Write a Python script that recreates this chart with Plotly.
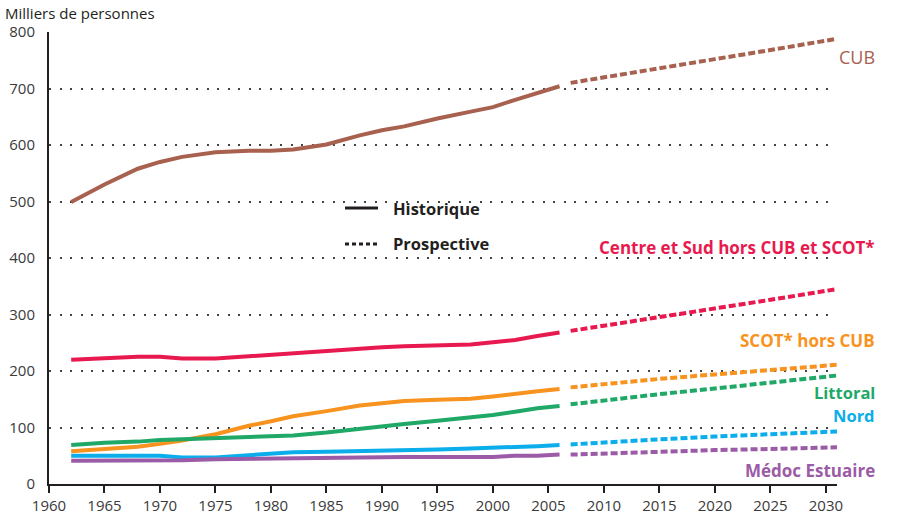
import plotly.graph_objects as go

# ---- data (milliers de personnes) ----
hist_years = [1962, 1965, 1968, 1970, 1972, 1975, 1978, 1980, 1982, 1985,
              1988, 1990, 1992, 1995, 1998, 2000, 2002, 2004, 2006]
prosp_years = [2007, 2010, 2015, 2020, 2025, 2031]

cub_hist = [499, 530, 558, 570, 579, 587, 590, 590, 592, 601,
            617, 626, 633, 647, 659, 667, 680, 692, 704]
cub_prosp = [710, 720, 735, 752, 768, 788]

centre_hist = [220, 223, 225, 225, 222, 222, 226, 230, 233, 236,
               240, 242, 244, 245, 247, 251, 255, 262, 268]
centre_prosp = [271, 280, 296, 311, 326, 345]

scot_hist = [58, 62, 66, 71, 77, 88, 103, 111, 120, 129,
             139, 143, 147, 149, 151, 155, 160, 164, 168]
scot_prosp = [171, 177, 186, 194, 201, 211]

littoral_hist = [69, 73, 75, 78, 79, 81, 83, 84, 86, 91,
                 98, 103, 106, 112, 118, 122, 128, 134, 138]
littoral_prosp = [141, 148, 159, 169, 180, 192]

nord_hist = [50, 50, 50, 50, 47, 47, 51, 54, 56, 57,
             58, 58, 59, 61, 63, 64, 66, 67, 69]
nord_prosp = [70, 74, 79, 84, 88, 93]

medoc_hist = [41, 41, 41, 41, 42, 44, 45, 45, 45, 47,
              48, 48, 48, 48, 48, 48, 50, 50, 52]
medoc_prosp = [52, 54, 57, 60, 62, 65]

series_names = ["CUB", "Centre et Sud hors CUB et SCOT*", "SCOT* hors CUB",
                "Littoral", "Nord", "Médoc Estuaire"]
y_ticks = [0, 100, 200, 300, 400, 500, 600, 700, 800]
x_ticks = [1960, 1965, 1970, 1975, 1980, 1985, 1990, 1995, 2000, 2005, 2010,
           2015, 2020, 2025, 2030]

# ---- styles ----
colors = ["#a8604f", "#e8194f", "#f7931e", "#20a866", "#0badea", "#9b5ba6"]
hist_all = [cub_hist, centre_hist, scot_hist, littoral_hist, nord_hist, medoc_hist]
prosp_all = [cub_prosp, centre_prosp, scot_prosp, littoral_prosp, nord_prosp, medoc_prosp]

fig = go.Figure()
for name, col, h, p in zip(series_names, colors, hist_all, prosp_all):
    fig.add_trace(go.Scatter(x=hist_years, y=h, mode="lines", name=name,
                             line=dict(color=col, width=4), showlegend=False))
    fig.add_trace(go.Scatter(x=prosp_years, y=p, mode="lines", name=name,
                             line=dict(color=col, width=4, dash="7px,3px"),
                             showlegend=False))

W, H = 899, 517
L, R, T, B = 49, 62, 32, 33
pw, ph = W - L - R, H - T - B


def px(xp):
    return (xp - L) / pw


def py(yp):
    return (H - B - yp) / ph


label_font = "Open Sans, Lato, sans-serif"
labels = [
    ("CUB", 57, False, 18),
    ("Centre et Sud hors CUB et SCOT*", 248, True, 17),
    ("SCOT* hors CUB", 340, True, 17),
    ("Littoral", 392, True, 16.5),
    ("Nord", 415, True, 16.5),
    ("Médoc Estuaire", 470, True, 17),
]
annotations = []
for (txt, ypix, bold, size), col in zip(labels, colors):
    annotations.append(dict(
        x=px(877), y=py(ypix), xref="paper", yref="paper",
        xanchor="right", yanchor="middle", showarrow=False,
        text=f"<b>{txt}</b>" if bold else txt,
        font=dict(family=label_font, size=size, color=col)))

# legend (custom)
annotations.append(dict(x=px(391), y=py(208), xref="paper", yref="paper",
                        xanchor="left", yanchor="middle", showarrow=False,
                        text="<b>Historique</b>",
                        font=dict(family=label_font, size=16.5, color="#231f20")))
annotations.append(dict(x=px(391), y=py(244), xref="paper", yref="paper",
                        xanchor="left", yanchor="middle", showarrow=False,
                        text="<b>Prospective</b>",
                        font=dict(family=label_font, size=16.5, color="#231f20")))
# axis unit label
annotations.append(dict(x=px(3), y=py(13), xref="paper", yref="paper",
                        xanchor="left", yanchor="middle", showarrow=False,
                        text="Milliers de personnes",
                        font=dict(family=label_font, size=15, color="#231f20")))

shapes = [
    dict(type="line", xref="paper", yref="paper", x0=px(345), x1=px(378),
         y0=py(208), y1=py(208), line=dict(color="#231f20", width=3)),
    dict(type="line", xref="paper", yref="paper", x0=px(345), x1=px(378),
         y0=py(244), y1=py(244), line=dict(color="#231f20", width=3, dash="4px,3px")),
]

fig.update_layout(
    width=W, height=H,
    margin=dict(l=L, r=R, t=T, b=B, pad=0, autoexpand=False),
    paper_bgcolor="white", plot_bgcolor="white",
    showlegend=False,
    annotations=annotations,
    shapes=shapes,
    font=dict(family=label_font, size=15, color="#333333"),
)
fig.update_xaxes(range=[1960, 2031], tickvals=x_ticks, showgrid=False,
                 automargin=False,
                 showline=True, linecolor="#231f20", linewidth=2,
                 ticks="outside", ticklen=7, tickwidth=1.5, tickcolor="#231f20",
                 tickfont=dict(size=15, color="#3a3a3a"), zeroline=False)
fig.update_yaxes(range=[0, 800], tickvals=y_ticks, showgrid=True,
                 automargin=False,
                 gridcolor="#444444", gridwidth=1.5, griddash="2px,8.5px",
                 showline=True, linecolor="#231f20", linewidth=2,
                 ticks="", ticklabelstandoff=9,
                 tickfont=dict(size=15, color="#3a3a3a"), zeroline=False)

fig.write_html(
    "out.html",
    config={"displayModeBar": False},
    post_script="document.body.style.margin='0px';document.body.style.overflow='hidden';",
)
